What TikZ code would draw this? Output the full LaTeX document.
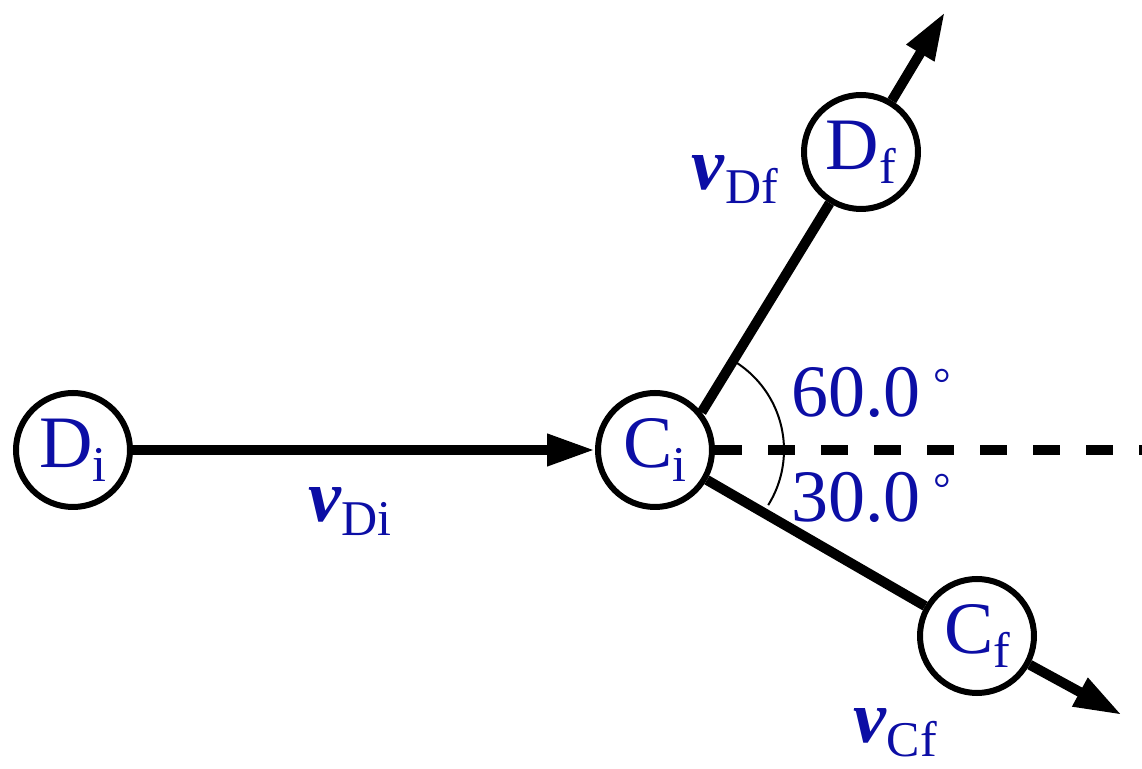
\documentclass[tikz,border=0pt]{standalone}
\usepackage{fontspec}
\setmainfont{Liberation Serif}
\usetikzlibrary{arrows.meta}
\definecolor{lblue}{RGB}{12,14,165}
\newcommand{\mysub}[1]{\raisebox{-7pt}{\fontsize{25}{25}\selectfont #1}}
\newcommand{\mydeg}{\,\raisebox{9pt}{\fontsize{22}{22}\selectfont °}}
\newcommand{\vv}{\textbf{\textit{v}}}
\begin{document}
\begin{tikzpicture}[x=0.5pt,y=-0.5pt,
  ball/.style={circle,draw=black,line width=3pt,minimum size=57pt,inner sep=0pt,fill=white,text=lblue,font=\fontsize{37}{40}\selectfont},
  lbl/.style={text=lblue,font=\fontsize{37}{40}\selectfont,inner sep=0pt},
  vec/.style={line width=5pt,-{Triangle[length=24pt,width=15pt]}},
  seg/.style={line width=5pt},
  dashline/.style={line width=5pt,dash pattern=on 13.5pt off 13pt},
  anglearc/.style={line width=1pt}]
\useasboundingbox (0,0) rectangle (1142,769);
\node[ball] (Di) at (73,450) {D\mysub{i}};
\node[ball] (Ci) at (655,450) {C\mysub{i}};
\node[ball] (Df) at (861,152) {D\mysub{f}};
\node[ball] (Cf) at (977,636) {C\mysub{f}};
\coordinate (tipDf) at (945,12);
\coordinate (tipCf) at (1122,715);
\coordinate (dashEnd) at (1142,450);
\coordinate (arcc) at (680,450);
\draw[vec] (Di) -- (Ci);
\draw[seg] (Ci.39) -- (Df);
\draw[vec] (Df) -- (tipDf);
\draw[seg] (Ci) -- (Cf);
\draw[vec] (Cf) -- (tipCf);
\draw[dashline] (Ci) -- (dashEnd);
\draw[anglearc] ([shift={(59:52pt)}]arcc) arc[start angle=59, end angle=-32, radius=52pt];
\node[lbl] (lDi) at (350,512) {\vv\mysub{Di}};
\node[lbl] (lDf) at (735,180) {\vv\mysub{Df}};
\node[lbl] (lCf) at (895,733) {\vv\mysub{Cf}};
\node[lbl] (a60) at (871,392) {60.0\mydeg};
\node[lbl] (a30) at (871,497) {30.0\mydeg};
\end{tikzpicture}
\end{document}
